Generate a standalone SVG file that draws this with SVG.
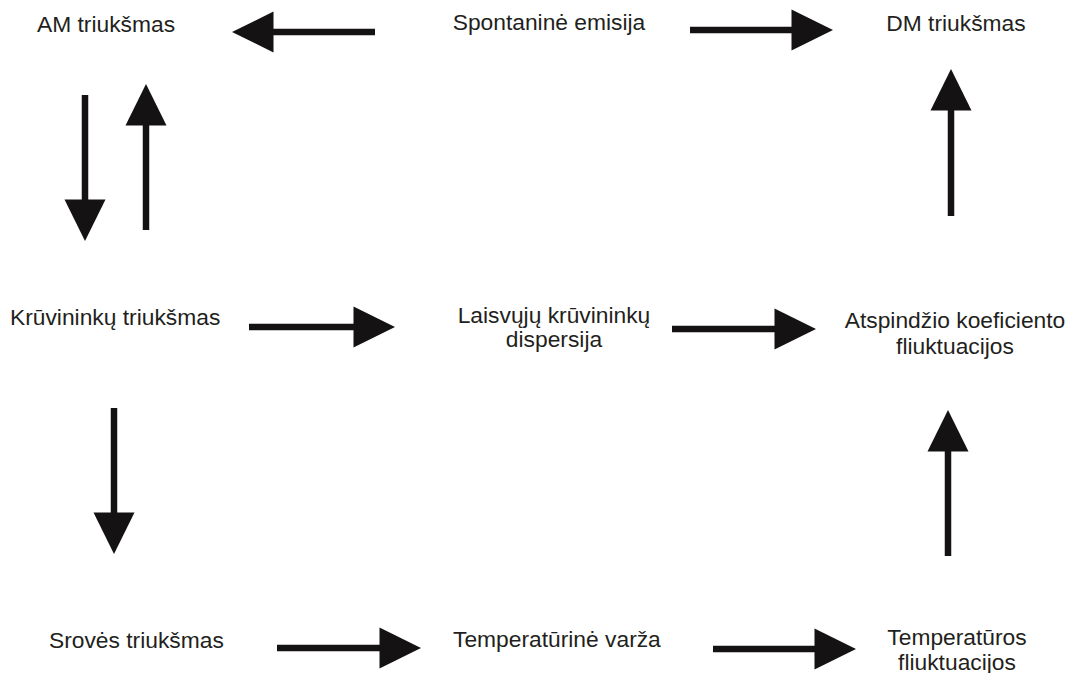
<svg xmlns="http://www.w3.org/2000/svg" width="1072" height="673" viewBox="0 0 1072 673">
<style>
text{font-family:"Liberation Sans",Arial,sans-serif;font-size:22.8px;fill:#231f20}
.m{text-anchor:middle}
.c line{stroke:#141212;stroke-width:6.5;marker-end:url(#ah)}
</style>
<defs>
<marker id="ah" markerUnits="userSpaceOnUse" markerWidth="42" markerHeight="42" refX="0.5" refY="20.5" orient="auto" overflow="visible">
<path d="M0,0 L41.5,20.5 L0,41 Z" fill="#141212"/>
</marker>
</defs>
<rect width="1072" height="673" fill="#fff"/>
<g id="n-am"><text x="37" y="32">AM triukšmas</text></g>
<g id="n-spont"><text class="m" x="549" y="30">Spontaninė emisija</text></g>
<g id="n-dm"><text class="m" x="956" y="31">DM triukšmas</text></g>
<g id="n-kruv"><text x="10" y="325">Krūvininkų triukšmas</text></g>
<g id="n-laisv"><text class="m" x="554" y="323">Laisvųjų krūvininkų</text><text class="m" x="554" y="347">dispersija</text></g>
<g id="n-atsp"><text class="m" x="955" y="328">Atspindžio koeficiento</text><text class="m" x="955" y="354">fliuktuacijos</text></g>
<g id="n-srov"><text x="49" y="648">Srovės triukšmas</text></g>
<g id="n-tvarza"><text x="453" y="647">Temperatūrinė varža</text></g>
<g id="n-tfl"><text class="m" x="957" y="645">Temperatūros</text><text class="m" x="957" y="670">fliuktuacijos</text></g>
<g id="connectors" class="c">
<line x1="375" y1="32" x2="273" y2="32"/>
<line x1="690" y1="30" x2="792" y2="30"/>
<line x1="85" y1="95" x2="85" y2="200"/>
<line x1="146" y1="230" x2="146" y2="125"/>
<line x1="951" y1="216" x2="951" y2="110"/>
<line x1="249" y1="327" x2="354" y2="327"/>
<line x1="672" y1="329" x2="775" y2="329"/>
<line x1="114" y1="408" x2="114" y2="513"/>
<line x1="948" y1="556" x2="948" y2="451"/>
<line x1="277" y1="648" x2="380" y2="648"/>
<line x1="713" y1="649" x2="815" y2="649"/>
</g>
</svg>
